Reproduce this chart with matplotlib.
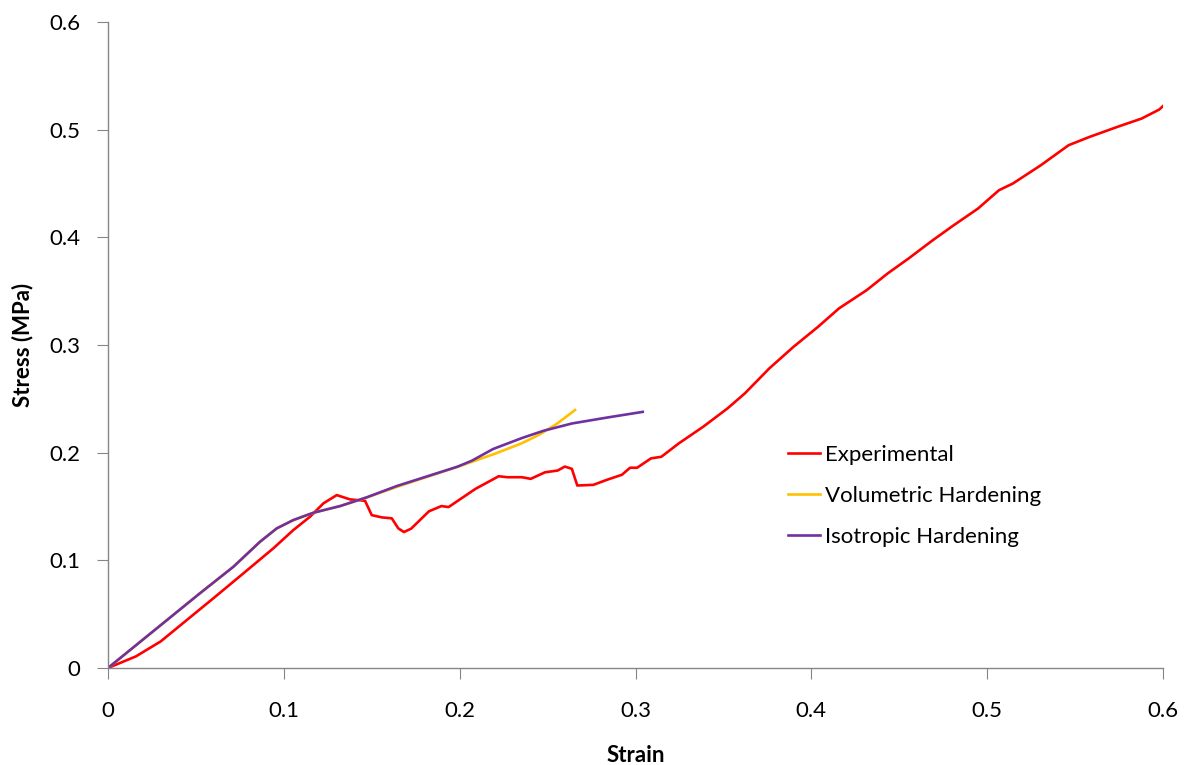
import numpy as np
import matplotlib.pyplot as plt

# values
exp_strain = [0.0, 0.0159, 0.030, 0.0545, 0.0599, 0.077, 0.094, 0.1054, 0.1149, 0.1225,
              0.1301, 0.1377, 0.1462, 0.150, 0.1557, 0.1614, 0.1651, 0.1683, 0.1724, 0.1825,
              0.1896, 0.1937, 0.209, 0.2222, 0.2272, 0.2354, 0.2404, 0.2486, 0.2557, 0.2598,
              0.2638, 0.2669, 0.276, 0.2841, 0.2923, 0.2969, 0.3009, 0.3088, 0.3147, 0.3246,
              0.3385, 0.3523, 0.3622, 0.3761, 0.3899, 0.4038, 0.4157, 0.4315, 0.4434, 0.4553,
              0.4691, 0.481, 0.4948, 0.5067, 0.5146, 0.5305, 0.5463, 0.5582, 0.574, 0.5879,
              0.5978, 0.6]
exp_stress = [0.0, 0.0108, 0.0247, 0.0575, 0.0647, 0.0879, 0.1111, 0.1281, 0.1405, 0.1529,
              0.1606, 0.1566, 0.1553, 0.142, 0.1399, 0.139, 0.1297, 0.1263, 0.1294, 0.1455,
              0.1504, 0.1495, 0.1664, 0.1781, 0.1772, 0.1772, 0.1757, 0.1818, 0.1834, 0.1871,
              0.185, 0.1695, 0.1701, 0.175, 0.1795, 0.186, 0.186, 0.1947, 0.1962, 0.2086,
              0.2241, 0.2411, 0.2551, 0.2783, 0.2984, 0.3169, 0.334, 0.351, 0.3665, 0.3804,
              0.3974, 0.4113, 0.4268, 0.4438, 0.45, 0.467, 0.4856, 0.4933, 0.5026, 0.5104,
              0.5187, 0.522]

vol_strain = [0.0, 0.0523, 0.0713, 0.0865, 0.096, 0.1054, 0.1168, 0.132, 0.1471, 0.1642,
              0.2, 0.22, 0.235, 0.245, 0.255, 0.2656]
vol_stress = [0.0, 0.0694, 0.094, 0.1173, 0.1297, 0.1374, 0.1442, 0.1504, 0.1583, 0.1682,
              0.1875, 0.199, 0.2085, 0.2165, 0.2265, 0.2396]

iso_strain = [0.0, 0.0523, 0.0713, 0.0865, 0.096, 0.1054, 0.1168, 0.132, 0.1471, 0.1642,
              0.1988, 0.207, 0.219, 0.2354, 0.2476, 0.2638, 0.2841, 0.3041]
iso_stress = [0.0, 0.0694, 0.094, 0.1173, 0.1297, 0.1374, 0.1442, 0.1504, 0.1585, 0.169,
              0.187, 0.1926, 0.2034, 0.2136, 0.2203, 0.2271, 0.2327, 0.2379]

ticks = [0, 0.1, 0.2, 0.3, 0.4, 0.5, 0.6]
tick_labels = ["0", "0.1", "0.2", "0.3", "0.4", "0.5", "0.6"]

plt.rcParams["font.family"] = ["Lato", "DejaVu Sans"]

fig = plt.figure(figsize=(11.93, 7.65), dpi=100)
ax = fig.add_axes([0.0905, 0.1268, 0.8844, 0.8444])

ax.plot(exp_strain, exp_stress, color="#FF0000", lw=1.9, label="Experimental")
ax.plot(vol_strain, vol_stress, color="#FFC000", lw=1.9, label="Volumetric Hardening")
ax.plot(iso_strain, iso_stress, color="#7030A0", lw=1.9, label="Isotropic Hardening")

ax.set_xlim(0, 0.6)
ax.set_ylim(0, 0.6)
ax.set_xticks(ticks)
ax.set_xticklabels(tick_labels)
ax.set_yticks(ticks)
ax.set_yticklabels(tick_labels)

for side in ["top", "right"]:
    ax.spines[side].set_visible(False)
for side in ["left", "bottom"]:
    ax.spines[side].set_color("#868686")
    ax.spines[side].set_linewidth(1.0)

ax.tick_params(axis="x", direction="out", length=8, color="#868686", labelsize=16, pad=16)
ax.tick_params(axis="y", direction="out", length=8, color="#868686", labelsize=16, pad=12)

ax.set_xlabel("Strain", fontsize=16, fontweight="bold", labelpad=17)
ax.set_ylabel("Stress (MPa)", fontsize=16, fontweight="bold", labelpad=11)

ax.legend(loc="upper left", bbox_to_anchor=(0.6438, 0.4444), bbox_transform=fig.transFigure,
          frameon=False, fontsize=16, handlelength=1.45, handletextpad=0.22,
          labelspacing=0.95)

fig.savefig("out.png", dpi=100)
